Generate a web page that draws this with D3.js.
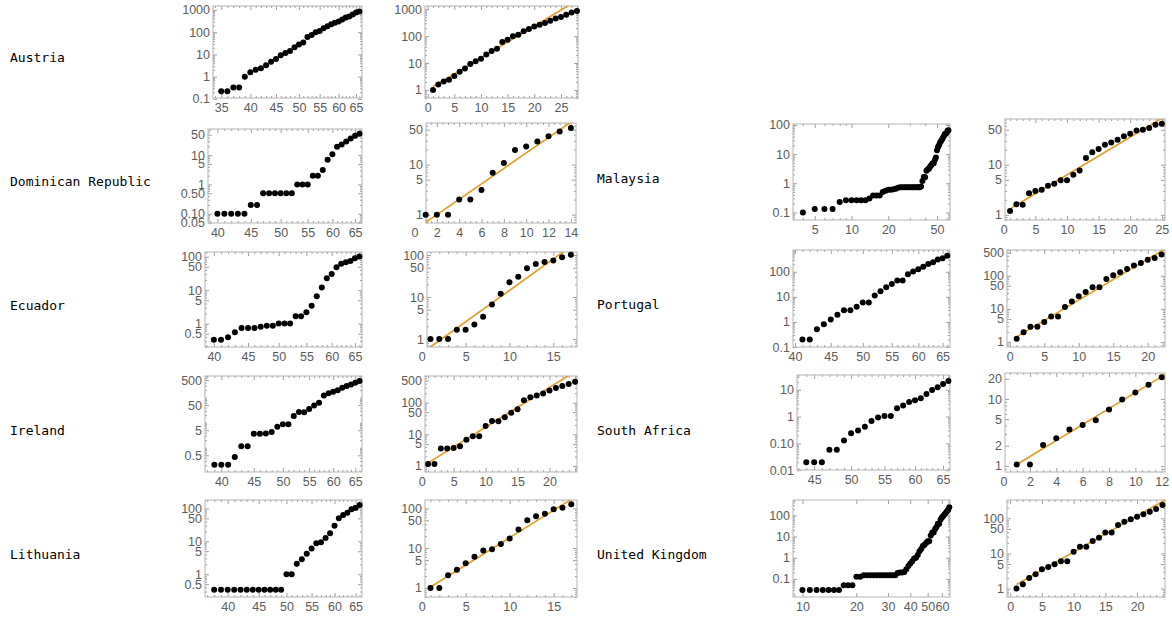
<!DOCTYPE html>
<html><head>
<meta charset="utf-8">
<title>Cases per country</title>
<script src="https://d3js.org/d3.v7.min.js"></script>
<style>
  body { margin: 0; background: #fff; }
  svg { display: block; }
  .country { font-family: "DejaVu Sans Mono", monospace; font-size: 13px; fill: #000; }
</style>
</head>
<body>
<svg id="plot" width="1172" height="619"></svg>
<script>

// ------ DATA (one value per day) ------
const austriaFirstDay = 35;
const austriaCases = [0.22,0.22,0.33,0.33, 1.0,1.6,2.05,2.4,3.3,4.7,6.3,9.2,11.7,14.4,20.8,28,34,60,74,98,113,151,184,226,264,305,370,455,510,625,760,860];
const austriaFit = [1.33, 0.273];   // value at x=1, daily log growth

const dominicanFirstDay = 40;
const dominicanCases = [0.1,0.1,0.1,0.1,0.1, 0.2,0.2, 0.5,0.5,0.5,0.5,0.5,0.5, 1,1,1, 2,2, 3.1,6.9,10.8,19.5,23,29,37,46,54];
const dominicanFit = [0.7, 0.355];

const ecuadorFirstDay = 40;
const ecuadorCases = [0.33,0.33,0.39,0.55,0.74,0.74,0.74,0.81,0.87,0.87, 1.0,1.0,1.0,1.65,1.65,2.2,3.4,6.6,12,22.5,30.5,48.5,61,68,74,89,102];
const ecuadorFit = [0.645, 0.345];

const irelandFirstDay = 39;
const irelandCases = [0.21,0.21,0.21,0.43, 1.15,1.15,3.6,3.6,3.7,4.2,6.8,8.7,8.7,18.5,26.5,26,35,48,62,120,148,170,196,245,290,335,390,457];
const irelandFit = [1.25, 0.289];

const lithuaniaFirstDay = 38;
const lithuaniaCases = [0.34,0.34,0.34,0.34,0.34,0.34,0.34,0.34,0.34,0.34,0.34,0.34, 1.0,1.0,2.1,2.85,4.2,6.05,8.7,9.35,12.7,17.5,29.5,50,63.5,73.5,95,104,127];
const lithuaniaFit = [1.06, 0.317];

const malaysiaFirstDay = 4;
const malaysiaCases = [0.1,0.13,0.13,0.13,0.23,0.26,0.26,0.26,0.26,0.26,0.3,0.38,0.38,0.38,0.5,0.55,0.6,0.6,0.62,0.65,0.7,0.73,
  0.73,0.73,0.73,0.73,0.73,0.73,0.73,0.73,0.73,0.73,0.73, 0.78,
  1.2,1.63,1.6,2.7,3.0,3.16,3.8,4.2,4.9,4.9,6.3,7.7,13.6,17.7,20.6,25,28,31.6,37,41.7,48.6,50,54,63,66];
const malaysiaFit = [1.32, 0.1735];

const portugalFirstDay = 41;
const portugalCases = [0.2,0.2,0.51,0.81, 1.25,1.95,2.9,2.9,4.0,5.9,5.9,11.3,16.7,24,32.5,45,45,80,103,127,160,205,242,305,345,440];
const portugalFit = [1.42, 0.285];

const southAfricaFirstDay = 44;
const southAfricaCases = [0.02,0.02,0.02,0.058,0.058,0.128,0.24,0.3,0.42,0.69,0.92, 1.05,1.05,2.05,2.6,3.5,4.1,4.8,7.0,9.8,12.5,16.3,21.2];
const southAfricaFit = [1.05, 0.275];

const ukFirstDay = 10;
const ukCases = [0.03,0.03,0.03,0.03,0.03,0.03,0.03, 0.05,0.05,0.05, 0.125,0.125,
  0.148,0.148,0.148,0.148,0.148,0.148,0.148,0.148,0.148,0.148,0.148,0.148,
  0.19,0.2,0.2,0.21,0.285,0.4,0.53,0.68,0.91,
  1.0,1.33,2.0,2.56,3.55,4.1,4.9,6.0,6.0,11.1,15.5,15.5,22.5,27.9,39.7,39.7,64.4,80,93.6,111,130,155,185,240];
const ukFit = [1.3, 0.237];

const countries = [
  {name: "Austria",            first: austriaFirstDay,     cases: austriaCases,     fit: austriaFit},
  {name: "Dominican Republic", first: dominicanFirstDay,   cases: dominicanCases,   fit: dominicanFit},
  {name: "Ecuador",            first: ecuadorFirstDay,     cases: ecuadorCases,     fit: ecuadorFit},
  {name: "Ireland",            first: irelandFirstDay,     cases: irelandCases,     fit: irelandFit},
  {name: "Lithuania",          first: lithuaniaFirstDay,   cases: lithuaniaCases,   fit: lithuaniaFit},
  {name: "Malaysia",           first: malaysiaFirstDay,    cases: malaysiaCases,    fit: malaysiaFit},
  {name: "Portugal",           first: portugalFirstDay,    cases: portugalCases,    fit: portugalFit},
  {name: "South Africa",       first: southAfricaFirstDay, cases: southAfricaCases, fit: southAfricaFit},
  {name: "United Kingdom",     first: ukFirstDay,          cases: ukCases,          fit: ukFit}
];

// ------ LAYOUT (frame box = [left, right, top, bottom]) ------
const days5 = [35,40,45,50,55,60,65];
const days40 = [40,45,50,55,60,65];
const layout = [
  {label: [10, 57],
   L: {box: [213,362,6,98],     xd: [33.7,66.8],  yd: [0.11,1500],   xt: days5,  yt: [0.1,1,10,100,1000]},
   R: {box: [425,578,6,98],     xd: [-0.5,28.2],  yd: [0.5,1320],    xt: [0,5,10,15,20,25], yt: [1,10,100,1000]}},
  {label: [10, 181],
   L: {box: [208,362,129,223],  xd: [38.7,66.6],  yd: [0.0484,78],   xt: days40, yt: [0.05,0.1,0.5,1,5,10,50], yl: ["0.05","0.10","0.50","1","5","10","50"]},
   R: {box: [426,576,123,223],  xd: [1.03,14.46], yd: [0.68,68],     xt: [0,2,4,6,8,10,12,14], yt: [1,5,10,50]}},
  {label: [10, 305],
   L: {box: [205,362,252,347],  xd: [38.8,66.6],  yd: [0.2,138],     xt: days40, yt: [0.5,1,5,10,50,100]},
   R: {box: [427,577,252,347],  xd: [0.6,17.7],   yd: [0.645,118],   xt: [0,5,10,15], yt: [1,5,10,50,100]}},
  {label: [10, 430],
   L: {box: [205,362,376,472],  xd: [37.7,66.6],  yd: [0.108,724],   xt: days40, yt: [0.5,5,50,500]},
   R: {box: [425,577,376,472],  xd: [0.52,24.3],  yd: [0.645,700],   xt: [0,5,10,15,20], yt: [1,5,10,50,100,500]}},
  {label: [10, 554],
   L: {box: [205,362,500,597],  xd: [36.7,66.6],  yd: [0.204,180],   xt: days40, yt: [0.5,1,5,10,50,100]},
   R: {box: [425,577,500,597],  xd: [0.375,17.65],yd: [0.593,162],   xt: [0,5,10,15], yt: [1,5,10,50,100]}},
  {label: [597, 178],
   L: {box: [793,950,124,220],  xd: [3.32,63.9],  yd: [0.055,108],   xt: [5,10,20,50], yt: [0.1,1,10,100]},
   R: {box: [1005,1165,119,220],xd: [0.2,25.5],   yd: [0.79,82],     xt: [0,5,10,15,20,25], yt: [1,5,10,50]}},
  {label: [597, 304],
   L: {box: [793,950,250,347],  xd: [39.75,66.6], yd: [0.1,738],     xt: days40, yt: [0.1,1,10,100]},
   R: {box: [1007,1165,250,347],xd: [-0.4,22.5],  yd: [0.705,600],   xt: [0,5,10,15,20], yt: [1,5,10,50,100,500]}},
  {label: [597, 430],
   L: {box: [797,950,375,470],  xd: [42.85,66.3], yd: [0.0102,35.5], xt: [45,50,55,60,65], yt: [0.01,0.1,1,10], yl: ["0.01","0.10","1","10"]},
   R: {box: [1005,1165,373,472],xd: [0.11,12.25], yd: [0.81,24.5],   xt: [0,2,4,6,8,10,12], yt: [1,2,5,10,20]}},
  {label: [597, 554],
   L: {box: [793,950,500,597],  xd: [8.86,66.6],  yd: [0.0139,531],  xt: [10,20,30,40,50,60], yt: [0.1,1,10,100]},
   R: {box: [1007,1165,500,597],xd: [-0.5,24.4],  yd: [0.575,333],   xt: [0,5,10,15,20], yt: [1,5,10,50,100]}}
];

const svg = d3.select("svg#plot");
const frameColor = "#b4b4b4";
const labelColor = "#5c5c5c";
const fitColor = "#e19c24";
const fmt = d3.format("~g");

function logMinors(d, majors) {
  let out = [];
  for (let n = Math.floor(Math.log10(d[0])); n <= Math.ceil(Math.log10(d[1])); n++) {
    for (let m = 1; m <= 9; m++) {
      let v = m * Math.pow(10, n);
      if (v >= d[0] && v <= d[1] && !majors.some(t => Math.abs(t - v) < 1e-9 * v)) out.push(v);
    }
  }
  return out;
}

function inRange(vals, d) { return vals.filter(v => v >= d[0] - 1e-9 && v <= d[1] + 1e-9); }

function drawPanel(p, pts, fit, logX, id) {
  const [x0, x1, y0, y1] = p.box;
  const x = (logX ? d3.scaleLog() : d3.scaleLinear()).domain(p.xd).range([x0, x1]);
  const y = d3.scaleLog().domain(p.yd).range([y1, y0]);
  const g = svg.append("g");

  // minor ticks
  let xMinor;
  if (logX) {
    xMinor = p.xd[1] / p.xd[0] < 3
      ? d3.range(Math.ceil(p.xd[0]), Math.floor(p.xd[1]) + 1).filter(v => !p.xt.includes(v))
      : logMinors(p.xd, p.xt);
  } else {
    let step = p.xt[1] - p.xt[0];
    let ms = step === 2 ? 0.5 : step / 5;
    xMinor = d3.range(Math.ceil(p.xd[0] / ms) * ms, p.xd[1], ms).filter(v => !p.xt.some(t => Math.abs(t - v) < 1e-6));
  }
  const yMinor = logMinors(p.yd, p.yt);
  const xMajIn = inRange(p.xt, p.xd);

  const axes = g.append("g").attr("color", "#a0a0a0");
  // bottom, with labels
  const bottom = axes.append("g").attr("transform", "translate(0," + y1 + ")")
      .call(d3.axisBottom(x).tickValues(p.xt).tickSize(-4).tickPadding(5).tickFormat(fmt));
  bottom.selectAll(".tick").filter(d => d < p.xd[0] || d > p.xd[1]).select("line").remove();
  axes.append("g").attr("transform", "translate(0," + y1 + ")")
      .call(d3.axisBottom(x).tickValues(xMinor).tickSize(-2).tickFormat(""));
  // top
  axes.append("g").attr("transform", "translate(0," + y0 + ")")
      .call(d3.axisTop(x).tickValues(xMajIn).tickSize(-4).tickFormat(""));
  axes.append("g").attr("transform", "translate(0," + y0 + ")")
      .call(d3.axisTop(x).tickValues(xMinor).tickSize(-2).tickFormat(""));
  // left, with labels
  const labels = p.yl || p.yt.map(fmt);
  axes.append("g").attr("transform", "translate(" + x0 + ",0)")
      .call(d3.axisLeft(y).tickValues(p.yt).tickSize(-4).tickPadding(3).tickFormat((d, i) => labels[i]));
  axes.append("g").attr("transform", "translate(" + x0 + ",0)")
      .call(d3.axisLeft(y).tickValues(yMinor).tickSize(-2).tickFormat(""));
  // right
  axes.append("g").attr("transform", "translate(" + x1 + ",0)")
      .call(d3.axisRight(y).tickValues(p.yt).tickSize(-4).tickFormat(""));
  axes.append("g").attr("transform", "translate(" + x1 + ",0)")
      .call(d3.axisRight(y).tickValues(yMinor).tickSize(-2).tickFormat(""));

  axes.selectAll(".domain").remove();
  axes.selectAll("g")
      .attr("font-size", 12.5)
      .attr("font-family", "'Liberation Sans', Arial, sans-serif");
  axes.selectAll("text").attr("fill", labelColor);

  // frame
  g.append("rect")
   .attr("x", x0).attr("y", y0)
   .attr("width", x1 - x0).attr("height", y1 - y0)
   .attr("fill", "none")
   .attr("stroke", frameColor)
   .attr("stroke-width", 1);

  // fit line (exponential -> straight on a log axis)
  if (fit) {
    g.append("clipPath").attr("id", "clip" + id)
     .append("rect").attr("x", x0).attr("y", y0).attr("width", x1 - x0).attr("height", y1 - y0);
    const xs = [1, p.xd[1]];
    const line = d3.line().x(d => x(d[0])).y(d => y(d[1]));
    g.append("path")
     .datum(xs.map(v => [v, fit[0] * Math.exp(fit[1] * (v - 1))]))
     .attr("d", line)
     .attr("fill", "none")
     .attr("stroke", fitColor)
     .attr("stroke-width", 1.6)
     .attr("clip-path", "url(#clip" + id + ")");
  }

  // points
  g.selectAll("circle.pt").data(pts).join("circle")
   .attr("class", "pt")
   .attr("cx", d => x(d[0]))
   .attr("cy", d => y(d[1]))
   .attr("r", 3)
   .attr("fill", "#000");
}

countries.forEach((c, i) => {
  const lay = layout[i];
  svg.append("text").attr("class", "country")
     .attr("x", lay.label[0]).attr("y", lay.label[1])
     .attr("dominant-baseline", "central")
     .text(c.name);

  // left: cases against day, log-log
  const leftPts = c.cases.map((v, j) => [c.first + j, v]);
  drawPanel(lay.L, leftPts, null, true, "L" + i);

  // right: from the first day with at least 1, counted 1, 2, 3...
  const start = c.cases.findIndex(v => v >= 1);
  const rightPts = c.cases.slice(start).map((v, j) => [j + 1, v]);
  drawPanel(lay.R, rightPts, c.fit, false, "R" + i);
});

</script>
</body>
</html>
